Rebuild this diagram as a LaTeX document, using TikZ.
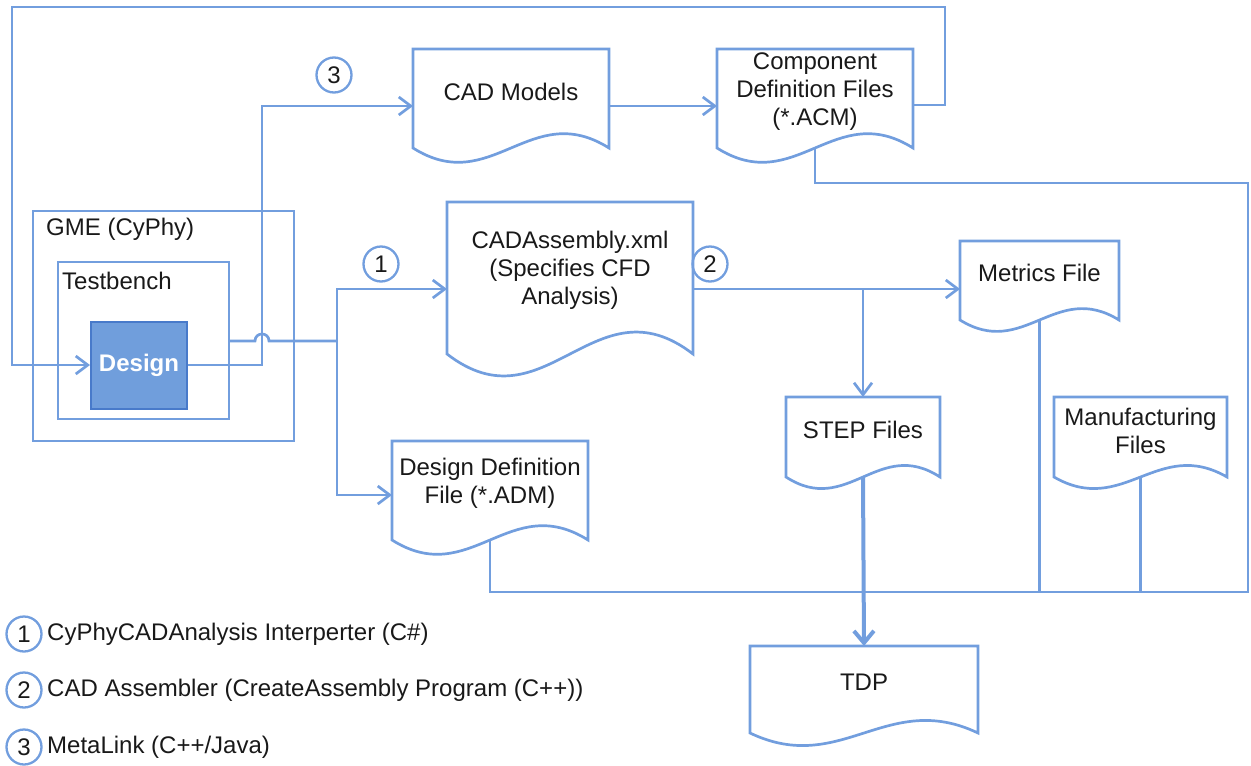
\documentclass[tikz,border=0pt]{standalone}
\usepackage{fontspec}
\setmainfont{Liberation Sans}
\usetikzlibrary{arrows.meta}
\definecolor{lineblue}{RGB}{114,158,222}
\definecolor{designfill}{RGB}{112,158,220}
\definecolor{designborder}{RGB}{72,122,202}
\definecolor{txt}{RGB}{25,25,25}
\tikzset{
  conn/.style={draw=lineblue, line width=2.7pt},
  tip/.style={-{Straight Barb[length=12pt,width=18pt]}},
  thickconn/.style={draw=lineblue, line width=4pt, -{Straight Barb[length=12pt,width=20pt]}},
  docbox/.style={inner sep=0pt, outer sep=0pt, draw=none},
  doctext/.style={inner sep=0pt, align=center, text=txt, font=\fontsize{24}{28}\selectfont},
  framebox/.style={draw=lineblue, line width=2.7pt, inner sep=0pt, outer sep=0pt},
  numcircle/.style={circle, draw=lineblue, line width=2.3pt, minimum size=35pt, inner sep=0pt, text=txt, font=\fontsize{24}{28}\selectfont},
  legtext/.style={anchor=west, inner sep=0pt, text=txt, font=\fontsize{24}{28}\selectfont},
  boxlabel/.style={anchor=west, inner sep=0pt, text=txt, font=\fontsize{24}{28}\selectfont}
}
\newcommand\docshape[7]{%
  \node[docbox, minimum width={(#4-#2)*1pt}, minimum height={(#5-#3)*1pt}] (#1) at ({(#2+#4)/2},{(#3+#5)/2}) {};
  \draw[conn] (#1.south west) -- (#1.north west) -- (#1.north east) -- (#1.south east)
    .. controls ({#2+0.6*(#4-#2)},{#5-0.5*(#5-#3)}) and ({#2+0.4*(#4-#2)},{#5+0.5*(#5-#3)}) .. cycle;
  \node[doctext] (#1-t) at ({(#2+#4)/2},#6) {#7};
}
\begin{document}
\begin{tikzpicture}[x=1pt,y=-1pt]
\useasboundingbox (0,0) rectangle (1251,766);

% frames
\node[framebox, minimum width=261pt, minimum height=230pt] (gme) at (163.5,326) {};
\node[boxlabel] (gmel) at (46,229) {GME (CyPhy)};
\node[framebox, minimum width=171pt, minimum height=157pt] (tb) at (143.5,340.5) {};
\node[boxlabel] (tbl) at (62,281) {Testbench};

% documents
\docshape{cad}{413}{49}{609}{148}{92}{CAD Models}
\docshape{comp}{717}{49}{913}{148}{92}{Component\\Definition Files\\(*.ACM)}
\docshape{cadasm}{447}{202}{693}{354}{270}{CADAssembly.xml\\(Specifies CFD\\Analysis)}
\docshape{metrics}{960}{241}{1119}{320}{273}{Metrics File}
\docshape{step}{786}{397}{940}{477}{430}{STEP Files}
\docshape{manuf}{1054}{397}{1227}{477}{431}{Manufacturing\\Files}
\docshape{ddf}{392}{441}{588}{540}{483}{Design Definition\\File (*.ADM)}
\docshape{tdp}{750}{646}{978}{733}{682}{TDP}

% design block
\node[draw=designborder, fill=designfill, line width=2pt, minimum width=96pt, minimum height=87pt, inner sep=0pt, text=white, font=\fontsize{24}{28}\selectfont\bfseries] (design) at (139,365) {Design};

% top loop back into design
\coordinate (tr) at (945,7);
\coordinate (tlc) at (12,365);
\draw[conn,tip] (comp.east |- 0,105) -| (tr) -| (tlc) -- (design.west);

% MetaLink (3)
\coordinate (m3) at (262,106);
\draw[conn,tip] (design.east) -| (m3) -- (cad.west |- m3);
\draw[conn,tip] (cad.east |- m3) -- (comp.west |- m3);

% CyPhyCADAnalysis (1)
\coordinate (j1) at (337,341);
\draw[conn] (tb.east |- j1) -- (255,341) .. controls (255,331.7) and (269,331.7) .. (269,341) -- (j1);
\draw[conn,tip] (j1) |- (cadasm.west |- 0,289);
\draw[conn,tip] (j1) |- (ddf.west |- 0,495);

% CAD Assembler (2)
\coordinate (j2) at (step.north |- 0,289);
\draw[conn,tip] (cadasm.east |- j2) -- (metrics.west |- j2);
\draw[conn,tip] (j2) -- (step.north);

% bus to TDP
\coordinate (busr) at (1248,592);
\coordinate (busl) at (ddf.south |- busr);
\draw[conn] (ddf.south) -- (busl) -- (busr) -- (1248,183) -| (comp.south);
\draw[conn] (metrics.south) -- (metrics.south |- busr);
\draw[conn] (manuf.south) -- (manuf.south |- busr);
\draw[thickconn] (step.south) -- (tdp.north);

% number circles
\node[numcircle] (c3) at (334,75) {3};
\node[numcircle] (c1) at (381,264) {1};
\node[numcircle] (c2) at (710,264) {2};

% legend
\node[numcircle] (l1) at (24,634) {1};
\node[legtext] (l1t) at (47,634) {CyPhyCADAnalysis Interperter (C\#)};
\node[numcircle] (l2) at (24,690) {2};
\node[legtext] (l2t) at (47,690) {CAD Assembler (CreateAssembly Program (C++))};
\node[numcircle] (l3) at (24,747) {3};
\node[legtext] (l3t) at (47,747) {MetaLink (C++/Java)};
\end{tikzpicture}
\end{document}
